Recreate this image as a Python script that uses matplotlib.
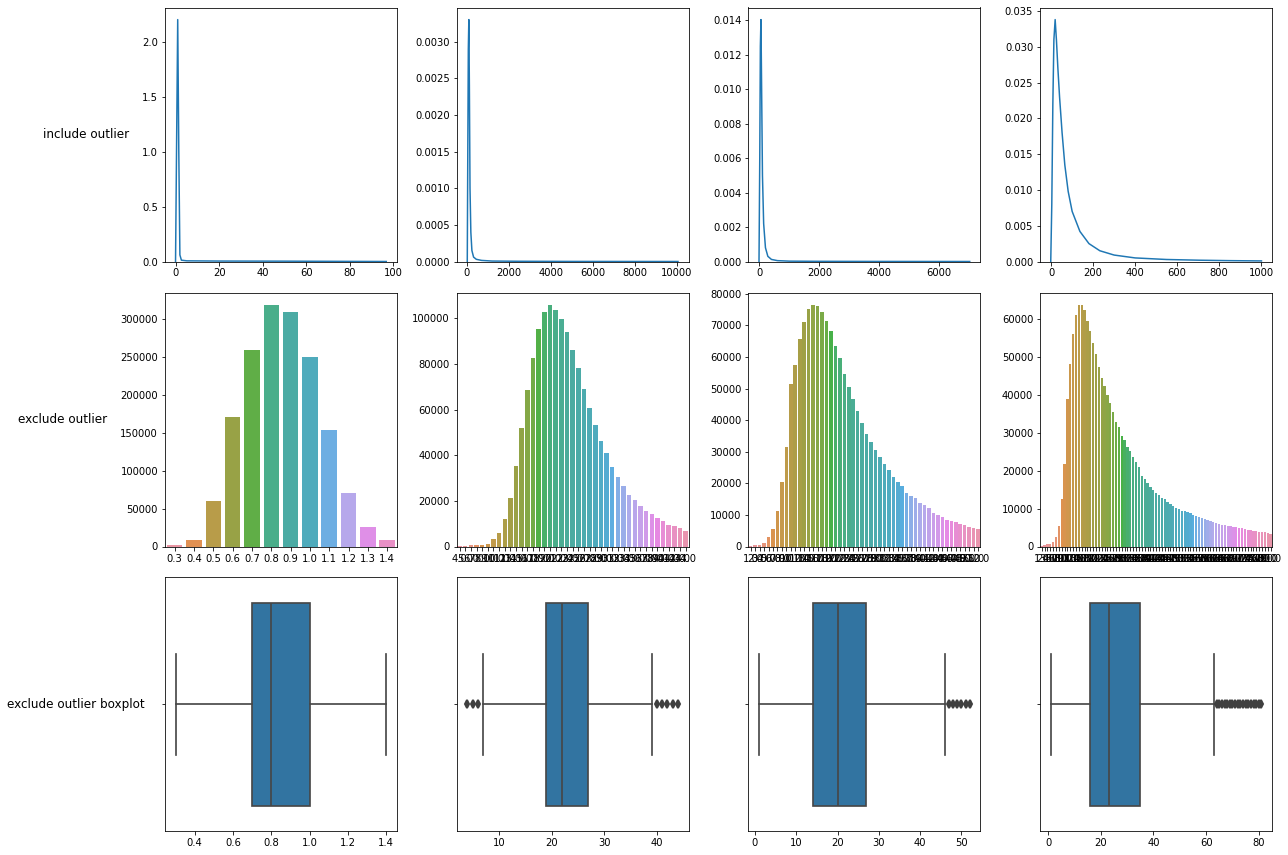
import numpy as np
import matplotlib
matplotlib.use("Agg")
import matplotlib.pyplot as plt
import seaborn as sns

row_labels = ["include outlier", "exclude outlier", "exclude outlier boxplot"]

# row 1: density curves (with outliers)
kde_x = [
    [-0.2, 0.3, 0.8, 1.3, 1.8, 2.5, 5, 20, 50, 96.7],
    [20, 45, 70, 95, 120, 150, 190, 240, 320, 450, 700, 1200, 2500, 5000,
     10050],
    [-15, 10, 30, 50, 75, 100, 140, 200, 280, 400, 600, 1000, 2000, 4000,
     7015],
    [-2, 3, 8, 13, 19, 25, 32, 40, 52, 65, 81, 100, 137, 180, 232, 300, 400,
     550, 706, 850, 1002],
]
kde_y = [
    [0, 1.1, 2.203, 1.0, 0.06, 0.012, 0.006, 0.004, 0.003, 0.0],
    [0, 0.0015, 0.0029, 0.0033, 0.0024, 0.0010, 0.0004, 0.00015, 0.00006,
     0.00003, 0.000015, 0.000006, 0.000003, 0.000001, 0.0],
    [0, 0.006, 0.0125, 0.01405, 0.0095, 0.0050, 0.0022, 0.0008, 0.0003,
     0.00012, 0.00005, 0.00002, 0.00001, 0.000004, 0.0],
    [0, 0.008, 0.022, 0.031, 0.0338, 0.031, 0.027, 0.023, 0.018, 0.0135,
     0.0098, 0.0070, 0.0042, 0.0025, 0.0015, 0.0009, 0.0005, 0.00028,
     0.00018, 0.00012, 0.00008],
]

# row 2: counts per value (outliers removed)
cats1 = [0.3, 0.4, 0.5, 0.6, 0.7, 0.8, 0.9, 1.0, 1.1, 1.2, 1.3, 1.4]
counts1 = [1500, 9000, 60500, 170000, 259000, 318500, 309000, 249000,
           153000, 71000, 26000, 9000]

cats2 = np.arange(4, 45).astype(float)
counts2 = [100, 200, 500, 500, 600, 1100, 3300, 6000, 12200, 21200, 35200,
           51800, 68400, 82800, 95500, 102900, 106000, 103800, 99800, 94200,
           86300, 78000, 68800, 60500, 53100, 46100, 40900, 34800, 30400,
           26500, 22600, 20400, 17800, 15600, 14300, 12500, 11200, 9300,
           8900, 8000, 7000]

cats3 = np.arange(1, 53).astype(float)
counts3 = [100, 400, 400, 1000, 3000, 5600, 11300, 20400, 31500, 51400,
           57400, 65600, 71000, 75300, 76600, 76300, 74400, 71300, 68100,
           63400, 59600, 54600, 50400, 46600, 42800, 39000, 35600, 33200,
           30500, 28300, 26100, 24200, 22000, 20500, 19300, 16900, 16000,
           15400, 13800, 13200, 12200, 10600, 10000, 9400, 8400, 8100, 7800,
           7200, 6800, 6200, 5900, 5600]

cats4 = np.arange(1, 82).astype(float)
counts4 = [100, 300, 600, 600, 1200, 2500, 5400, 12500, 21800, 38900, 48100,
           56200, 61200, 63900, 63900, 62500, 59600, 57000, 53800, 50900,
           47500, 44600, 42500, 39900, 37800, 35400, 32800, 31500, 29100,
           28100, 26200, 25200, 23600, 22300, 20900, 18700, 17900, 16800,
           15800, 15000, 14200, 13700, 12900, 12600, 11800, 11300, 10800,
           10300, 10000, 9500, 9300, 9000, 8800, 8200, 8000, 7700, 7400,
           7200, 6900, 6700, 6400, 6100, 6000, 5700, 5700, 5400, 5400, 5200,
           5200, 4900, 4900, 4600, 4400, 4400, 4100, 4100, 3900, 3700, 3700,
           3600, 3400]

bar_cats = [cats1, cats2, cats3, cats4]
bar_counts = [counts1, counts2, counts3, counts4]

# row 3: box statistics
box_q1 = [0.7, 19, 14, 16]
box_med = [0.8, 22, 20, 23]
box_q3 = [1.0, 27, 27, 35]
box_lo = [0.3, 7, 1, 1]
box_hi = [1.4, 39, 46, 63]
box_fliers = [
    [],
    [4, 5, 6, 40, 41, 42, 43, 44],
    [47, 48, 49, 50, 51, 52],
    list(range(64, 82)),
]

fig, axes = plt.subplots(3, 4, figsize=(1288 / 72, 855 / 72), dpi=72)
fig.subplots_adjust(left=165 / 1288, right=1272 / 1288,
                    bottom=1 - 831.5 / 855, top=1 - 7.5 / 855,
                    wspace=60 / 232, hspace=31 / 254)

gray = "#474747"
box_color = sns.desaturate("#1f77b4", 0.75)

for j in range(4):
    # density
    ax = axes[0, j]
    ax.plot(kde_x[j], kde_y[j], color="#1f77b4", lw=1.5)
    ax.set_ylim(bottom=0)

    # counts
    ax = axes[1, j]
    n = len(bar_cats[j])
    pal = [sns.desaturate(c, 0.75) for c in sns.husl_palette(n, l=.7)]
    ax.bar(np.arange(n), bar_counts[j], width=0.8, color=pal)
    ax.set_xticks(np.arange(n))
    ax.set_xticklabels([str(c) for c in bar_cats[j]])
    ax.set_xlim(-0.5, n - 0.5)

    # boxplot
    ax = axes[2, j]
    stats = dict(q1=box_q1[j], med=box_med[j], q3=box_q3[j],
                 whislo=box_lo[j], whishi=box_hi[j],
                 fliers=np.array(box_fliers[j], dtype=float))
    ax.bxp([stats], positions=[0], widths=0.8, orientation="horizontal",
           patch_artist=True, manage_ticks=False,
           boxprops=dict(facecolor=box_color, edgecolor=gray, linewidth=1.7),
           medianprops=dict(color=gray, linewidth=1.7),
           whiskerprops=dict(color=gray, linewidth=1.7),
           capprops=dict(color=gray, linewidth=1.7),
           flierprops=dict(marker="d", markerfacecolor="#3f3f3f",
                           markeredgecolor="#3f3f3f", markersize=5,
                           markeredgewidth=2))
    ax.set_yticks([0])
    ax.set_yticklabels([""])
    ax.set_ylim(0.5, -0.5)

for i, lab in enumerate(row_labels):
    axes[i, 0].set_ylabel(lab, rotation=0, ha="right", va="center",
                          fontsize=12, labelpad=13)

fig.savefig("out.png", dpi=72)
